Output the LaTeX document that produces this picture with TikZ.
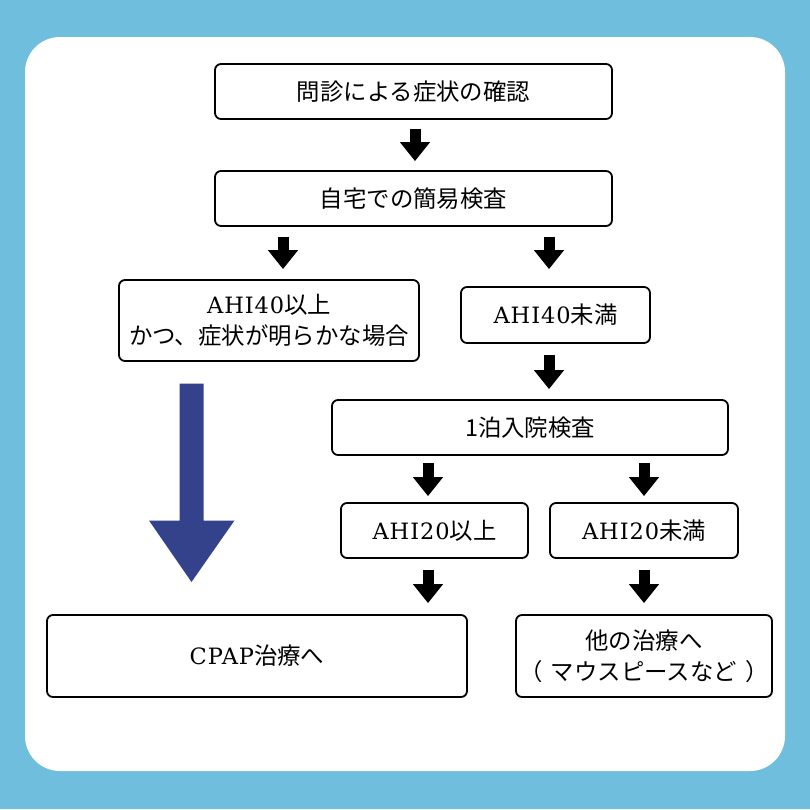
\documentclass[tikz,border=0pt]{standalone}
\usepackage{fontspec}
\setmainfont{Noto Sans CJK JP}
\newfontfamily\lat{DejaVu Serif}
\usetikzlibrary{arrows.meta}
\definecolor{bgblue}{RGB}{111,190,221}
\definecolor{bigarrow}{RGB}{52,66,140}
\newcommand{\latx}[1]{{\lat\fontsize{22.5pt}{31pt}\selectfont\addfontfeatures{LetterSpace=4}#1}}
\tikzset{
  box/.style={draw=black, line width=1.8pt, rounded corners=6pt, fill=white,
    align=center, inner sep=0pt, font=\fontsize{23.4pt}{31pt}\selectfont},
  blk/.style={line width=11pt, -{Triangle[width=29pt,length=19pt]}},
}
\begin{document}
\begin{tikzpicture}[x=1pt,y=-1pt]
\useasboundingbox (0,0) rectangle (810,809);
\fill[bgblue] (0,0) rectangle (810,809);
\fill[white, rounded corners=35pt] (25,37) rectangle (785,771);

\node[box, minimum width=397pt, minimum height=55pt] (n1) at (413.5,91.5) {問診による症状の確認};
\node[box, minimum width=397pt, minimum height=55pt] (n2) at (413.5,198.5) {自宅での簡易検査};
\node[box, minimum width=300pt, minimum height=81pt] (n3) at (269,320.5) {\latx{AHI40}以上\\かつ、症状が明らかな場合};
\node[box, minimum width=189pt, minimum height=56pt] (n4) at (555.5,315) {\latx{AHI40}未満};
\node[box, minimum width=396pt, minimum height=55pt] (n5) at (530,427.5) {1泊入院検査};
\node[box, minimum width=187pt, minimum height=55pt] (n6) at (434.5,530.5) {\latx{AHI20}以上};
\node[box, minimum width=188pt, minimum height=55pt] (n7) at (644,530.5) {\latx{AHI20}未満};
\node[box, minimum width=420pt, minimum height=82pt] (n8) at (257,656) {\latx{CPAP}治療へ};
\node[box, minimum width=256pt, minimum height=82pt] (n9) at (644,656) {他の治療へ\\（\hspace{8pt}マウスピースなど\hspace{8pt}）};

\coordinate (xa) at (415,0);
\coordinate (xb) at (283,0);
\coordinate (xc) at (549,0);
\coordinate (xd) at (428,0);
\coordinate (xe) at (644,0);

\draw[blk, shorten <=9pt, shorten >=9pt] (n1.south -| xa) -- (n2.north -| xa);
\draw[blk, shorten <=10pt, shorten >=10pt] (n2.south -| xb) -- (n3.north -| xb);
\draw[blk, shorten <=10pt, shorten >=17pt] (n2.south -| xc) -- (n4.north -| xc);
\draw[blk, shorten <=11pt, shorten >=10pt] (n4.south -| xc) -- (n5.north -| xc);
\draw[blk, shorten <=7pt, shorten >=6pt] (n5.south -| xd) -- (n6.north -| xd);
\draw[blk, shorten <=7pt, shorten >=6pt] (n5.south -| xe) -- (n7.north -| xe);
\draw[blk, shorten <=11pt, shorten >=11pt] (n6.south -| xd) -- (n8.north -| xd);
\draw[blk, shorten <=11pt, shorten >=11pt] (n7.south -| xe) -- (n9.north -| xe);

\fill[bigarrow] (179.5,383.5) -- (203.5,383.5) -- (203.5,520.5) -- (234.5,520.5)
  -- (191.5,582) -- (149,520.5) -- (179.5,520.5) -- cycle;
\end{tikzpicture}
\end{document}
